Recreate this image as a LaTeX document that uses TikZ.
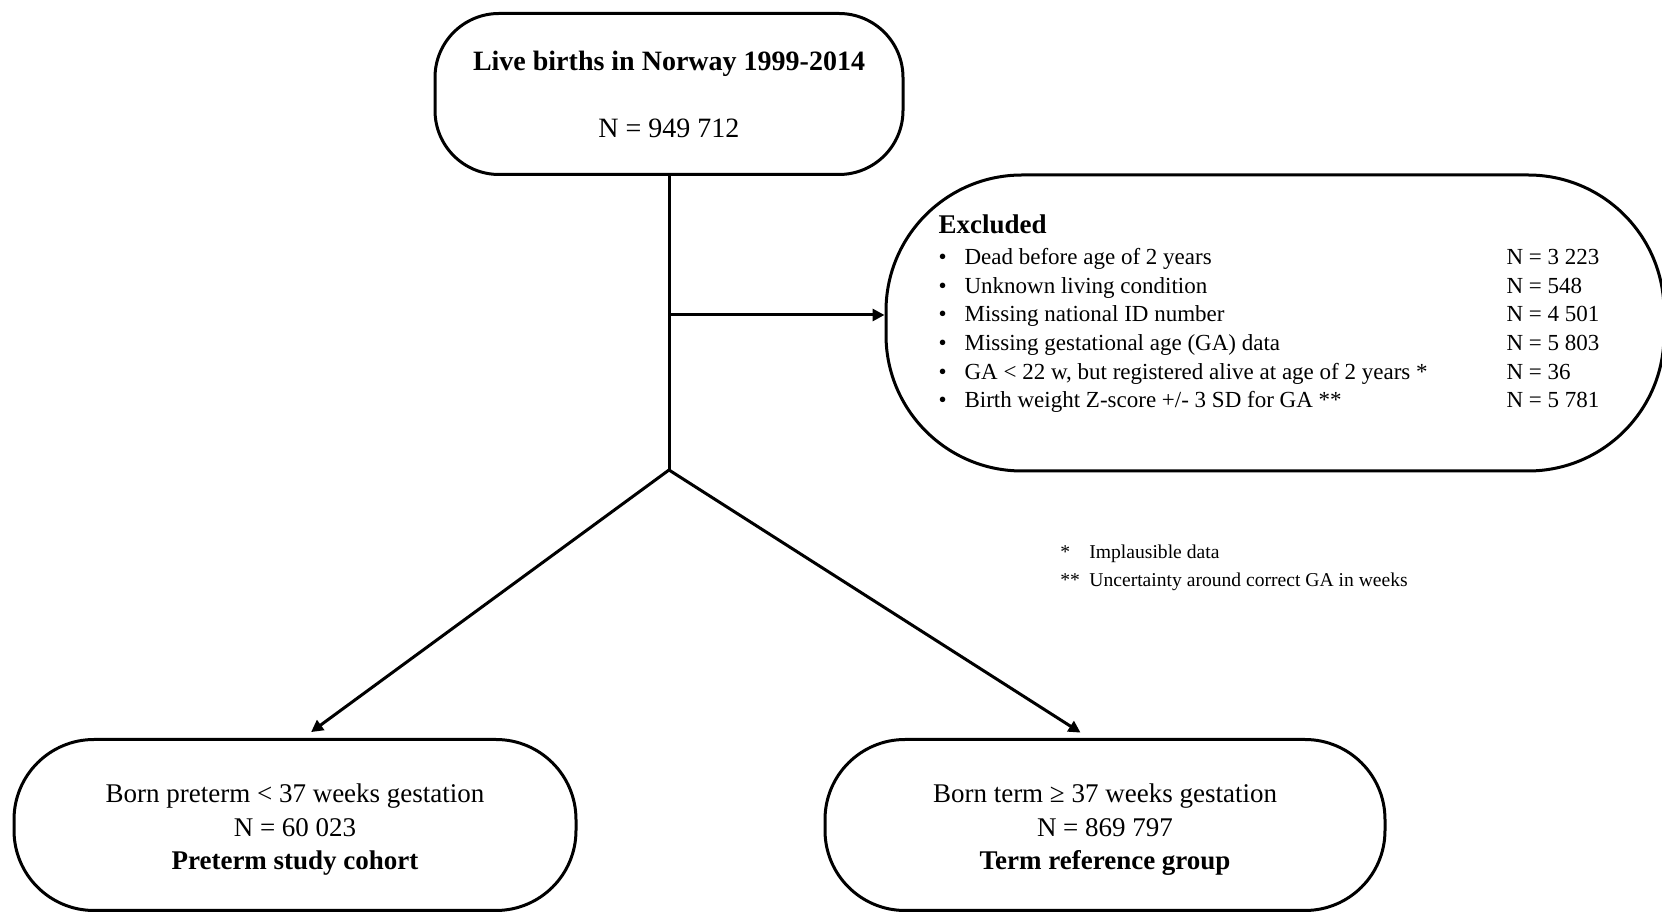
\documentclass[tikz,border=0pt]{standalone}
\usepackage{fontspec}
\setmainfont{Liberation Serif}
\usepackage{tikz}
\usetikzlibrary{arrows.meta,positioning}

\begin{document}
\begin{tikzpicture}[x=0.5pt,y=-0.5pt,
        box/.style={draw,line width=1.5pt,align=center,inner sep=0pt},
        link/.style={line width=1.5pt},
        arr/.style={line width=1.5pt,-{Triangle[length=6pt,width=6pt]}}]
        \useasboundingbox (0,0) rectangle (1662,913);
        \node[box,minimum width=234pt,minimum height=80.5pt,rounded corners=32pt,
            font=\fontsize{14}{33.5}\selectfont] (live) at (669,94)
            {\textbf{Live births in Norway 1999-2014}\\N = 949 712};
        \node[box,minimum width=389pt,minimum height=148pt,rounded corners=68pt,
            font=\fontsize{11.5}{14.3}\selectfont] (excl) at (1275,323)
            {\begin{tabular}{@{}p{13pt}@{}p{271pt}@{}l@{\hspace{6pt}}}
                \multicolumn{3}{@{}l}{\fontsize{13.5}{15}\selectfont\bfseries Excluded}\\[1.2pt]
                • & Dead before age of 2 years & N = 3 223\\
                • & Unknown living condition & N = 548\\
                • & Missing national ID number & N = 4 501\\
                • & Missing gestational age (GA) data & N = 5 803\\
                • & GA < 22 w, but registered alive at age of 2 years * & N = 36\\
                • & Birth weight Z-score +/- 3 SD for GA ** & N = 5 781\\[8pt]
            \end{tabular}};
        \node[anchor=west,inner sep=0pt,font=\fontsize{9.8}{13.8}\selectfont] (notes) at (1060,567)
            {\begin{tabular}{@{}p{14.5pt}@{}l@{}}
                * & Implausible data\\
                {**} & Uncertainty around correct GA in weeks
            \end{tabular}};
        \node[box,minimum width=281pt,minimum height=85.5pt,rounded corners=40pt,
            font=\fontsize{13.5}{16.75}\selectfont] (pre) at (295,825)
            {\rule{0pt}{14pt}Born preterm < 37 weeks gestation\\N = 60 023\\\textbf{Preterm study cohort}};
        \node[box,minimum width=280pt,minimum height=85.5pt,rounded corners=40pt,
            font=\fontsize{13.5}{16.75}\selectfont] (term) at (1105,825)
            {\rule{0pt}{14pt}Born term ≥ 37 weeks gestation\\N = 869 797\\\textbf{Term reference group}};
        \coordinate (split) at (669,470);
        \coordinate (mid) at (669,315);
        \draw[link] (live.south) -- (split);
        \draw[arr] (mid) -- (mid -| excl.west);
        \draw[arr,shorten >=5pt] (split) -- ([xshift=4pt]pre.north);
        \draw[arr,shorten >=5pt] (split) -- ([xshift=-8pt]term.north);
    \end{tikzpicture}
\end{document}
